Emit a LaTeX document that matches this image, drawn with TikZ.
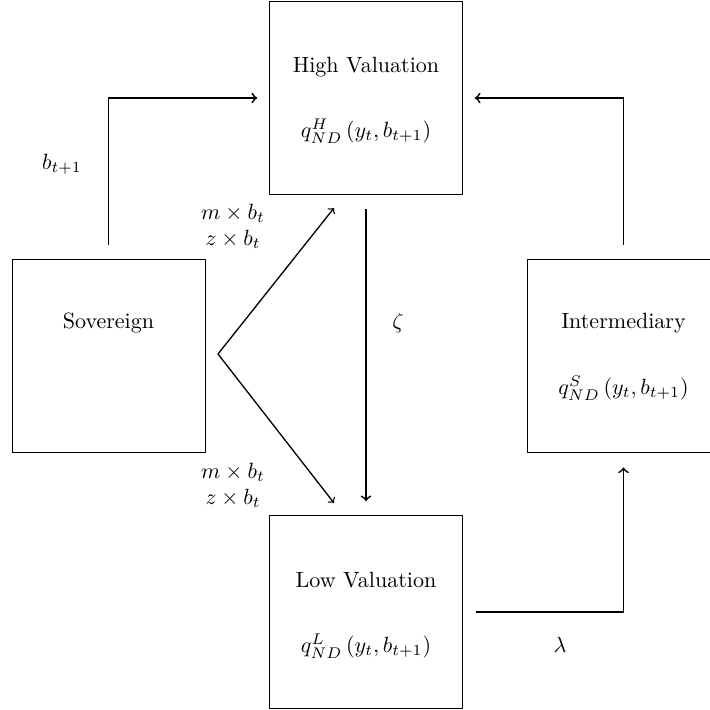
\documentclass[tikz,border=0pt]{standalone}
\usetikzlibrary{calc}
\begin{document}
\begin{tikzpicture}[x=0.4535pt,y=-0.4535pt,
  box/.style={draw,line width=0.4pt,minimum width=87.5pt,minimum height=87.5pt,inner sep=0pt},
  txt/.style={anchor=base,inner sep=0pt},
  arr/.style={->,line width=0.8pt},
  varr/.style={<->,line width=0.6pt}]
\useasboundingbox (0,0) rectangle (710,710);
% boxes
\node[box] (high) at (366,98) {};
\node[box] (sov) at (108.5,355.5) {};
\node[box] (int) at (623.5,355.5) {};
\node[box] (low) at (366,612) {};
% box texts
\node[txt] (hight) at (366,72) {High Valuation};
\node[txt] (highq) at (366,137) {$q_{ND}^{H}\left(y_{t},b_{t+1}\right)$};
\node[txt] (sovt) at (108.5,328) {Sovereign};
\node[txt] (intt) at (623.5,328) {Intermediary};
\node[txt] (intq) at (623.5,394) {$q_{ND}^{S}\left(y_{t},b_{t+1}\right)$};
\node[txt] (lowt) at (366,587) {Low Valuation};
\node[txt] (lowq) at (366,652) {$q_{ND}^{L}\left(y_{t},b_{t+1}\right)$};
% connectors
\draw[arr,shorten <=6.3pt,shorten >=5.4pt] (sov.north) |- (high.west);
\draw[arr,shorten <=6.3pt,shorten >=5.4pt] (int.north) |- (high.east);
\draw[arr,shorten <=5.9pt,shorten >=6.8pt] (low.east) -| (int.south);
\draw[arr,shorten <=6.3pt,shorten >=6.3pt] (high.south) -- (low.north);
\coordinate (apex) at (218,354);
\coordinate (vtop) at (334,208);
\coordinate (vbot) at (334,503);
\draw[varr] (vtop) -- (apex) -- (vbot);
% labels
\node[txt] (lb) at (62,169) {$b_{t+1}$};
\node[txt] (m1) at (233,219) {$m\times b_t$};
\node[txt] (z1) at (233,245) {$z\times b_t$};
\node[txt] (m2) at (233,478) {$m\times b_t$};
\node[txt] (z2) at (233,504) {$z\times b_t$};
\node (zeta) at (398,323) {$\zeta$};
\node (lam) at (560,645) {$\lambda$};
\end{tikzpicture}
\end{document}
